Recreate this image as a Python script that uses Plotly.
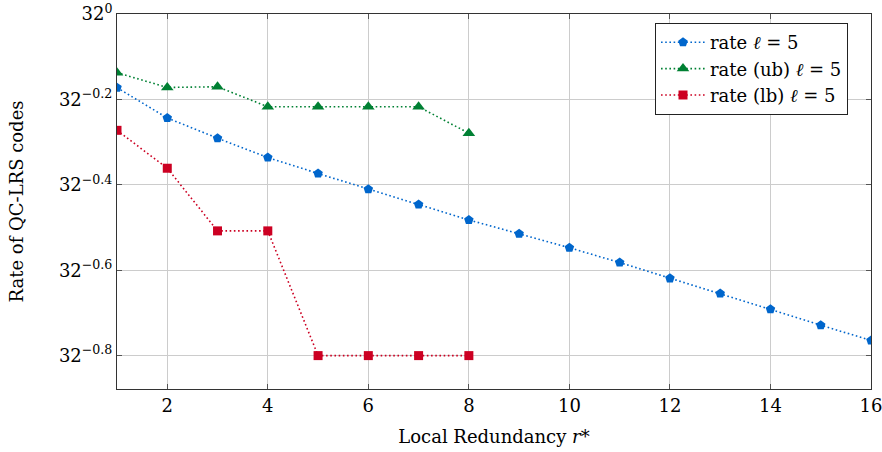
import math
import plotly.graph_objects as go

r_rate = list(range(1, 17))
rate = [0.55, 0.43, 0.365, 0.312, 0.274, 0.241, 0.213, 0.188, 0.168, 0.150,
        0.133, 0.117, 0.1035, 0.091, 0.080, 0.0707]

r_bounds = list(range(1, 9))
rate_ub = [0.621, 0.551, 0.554, 0.471, 0.471, 0.471, 0.471, 0.38]
rate_lb = [0.389, 0.286, 0.172, 0.172, 0.0625, 0.0625, 0.0625, 0.0625]

y_exponents = [0, -0.2, -0.4, -0.6, -0.8]
x_ticks = [2, 4, 6, 8, 10, 12, 14, 16]

FONT = "DejaVu Serif"
FS = 18
BLUE = "#0066CC"
GREEN = "#008033"
RED = "#CC0022"
DOT = "1.6px,2.6px"

fig = go.Figure()
fig.add_trace(go.Scatter(
    x=r_rate, y=rate, mode="lines+markers", name="rate <i>ℓ</i> = 5",
    line=dict(color=BLUE, dash=DOT, width=1.6),
    marker=dict(symbol="pentagon", size=10, color=BLUE)))
fig.add_trace(go.Scatter(
    x=r_bounds, y=rate_ub, mode="lines+markers", name="rate (ub) <i>ℓ</i> = 5",
    line=dict(color=GREEN, dash=DOT, width=1.6),
    marker=dict(symbol="triangle-up", size=11, color=GREEN)))
fig.add_trace(go.Scatter(
    x=r_bounds, y=rate_lb, mode="lines+markers", name="rate (lb) <i>ℓ</i> = 5",
    line=dict(color=RED, dash=DOT, width=1.6),
    marker=dict(symbol="square", size=9, color=RED)))

bottom = -4.391 * math.log10(2)

fig.update_layout(
    width=882, height=452,
    margin=dict(l=117, r=11, t=14, b=63),
    paper_bgcolor="white", plot_bgcolor="white",
    font=dict(family=FONT, size=FS, color="black"),
    showlegend=True,
    legend=dict(x=0.9695, y=0.976, xanchor="right", yanchor="top",
                bordercolor="#222222", borderwidth=1, bgcolor="white",
                font=dict(family=FONT, size=FS), tracegroupgap=0,
                itemwidth=44),
    xaxis=dict(
        range=[1, 16], tickvals=x_ticks, ticktext=[str(t) for t in x_ticks],
        showgrid=True, gridcolor="#CCCCCC", gridwidth=1,
        showline=True, linecolor="#333333", linewidth=1, mirror="ticks",
        ticks="inside", ticklen=5, tickcolor="#555555",
        zeroline=False, automargin=False, ticklabeloverflow="allow",
        title=dict(text="Local Redundancy <i>r</i>*", font=dict(family=FONT, size=FS), standoff=15),
    ),
    yaxis=dict(
        type="log", range=[bottom, 0],
        tickvals=[32 ** e for e in y_exponents],
        ticktext=["32<sup>%s</sup>" % ("0" if e == 0 else "−%g" % abs(e)) for e in y_exponents],
        showgrid=True, gridcolor="#CCCCCC", gridwidth=1,
        showline=True, linecolor="#333333", linewidth=1, mirror="ticks",
        ticks="inside", ticklen=5, tickcolor="#555555",
        zeroline=False, automargin=False, ticklabeloverflow="allow",
        title=dict(text="Rate of QC-LRS codes", font=dict(family=FONT, size=FS), standoff=30),
    ),
)

fig.write_html("out.html", config={"displayModeBar": False},
               post_script="document.body.style.margin='0';document.body.style.overflow='hidden';")
